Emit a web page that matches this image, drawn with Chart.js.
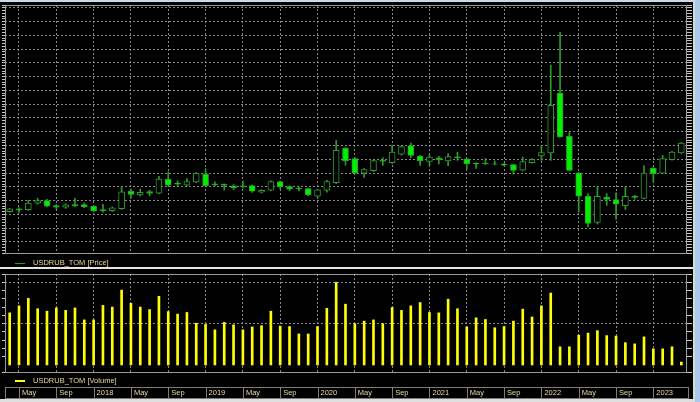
<!DOCTYPE html>
<html>
<head>
<meta charset="utf-8">
<script src="https://cdn.jsdelivr.net/npm/chart.js@4.4.1/dist/chart.umd.min.js"></script>
<style>
  html, body { margin: 0; padding: 0; background: #000; width: 700px; height: 402px; overflow: hidden; }
  .abs { position: absolute; }
  .legend { position: absolute; font: 7.5px 'Liberation Sans', Arial, sans-serif; color: #e6dc96; white-space: nowrap; line-height: 9px; }
  .frame { position: absolute; box-sizing: border-box; border: 1px solid #9a9a9a; pointer-events: none; }
</style>
</head>
<body>
<div class="abs" style="left:0;top:0;width:700px;height:258px"><canvas id="priceChart"></canvas></div>
<div class="abs" style="left:0;top:270px;width:700px;height:132px"><canvas id="volumeChart"></canvas></div>

<div class="frame" style="left:5px;top:5px;width:682px;height:249px"></div>
<div class="frame" style="left:5px;top:274px;width:682px;height:99px"></div>

<div class="abs" style="left:15px;top:263px;width:10px;height:1px;background:#1ea01e"></div>
<div class="legend" style="left:33px;top:258px">USDRUB_TOM [Price]</div>
<div class="abs" style="left:0;top:267px;width:693px;height:2px;background:#e4e4e4"></div>
<div class="abs" style="left:15px;top:380px;width:10px;height:2px;background:#ffff00"></div>
<div class="legend" style="left:33px;top:376px">USDRUB_TOM [Volume]</div>

<div class="abs" style="left:0;top:0;width:700px;height:2px;background:#c9d9ea"></div>
<div class="abs" style="left:693px;top:2px;width:2px;height:397px;background:#d8d8d8"></div>
<div class="abs" style="left:695px;top:0;width:5px;height:402px;background:#a9cbe9"></div>
<div class="abs" style="left:0;top:399px;width:695px;height:3px;background:#dedede"></div>

<script>
// monthly candles, Apr 2017 .. Apr 2023
const months = [
  'Apr 2017', 'May 2017', 'Jun 2017', 'Jul 2017', 'Aug 2017', 'Sep 2017', 'Oct 2017', 'Nov 2017', 'Dec 2017',
  'Jan 2018', 'Feb 2018', 'Mar 2018', 'Apr 2018', 'May 2018', 'Jun 2018', 'Jul 2018', 'Aug 2018', 'Sep 2018', 'Oct 2018', 'Nov 2018', 'Dec 2018',
  'Jan 2019', 'Feb 2019', 'Mar 2019', 'Apr 2019', 'May 2019', 'Jun 2019', 'Jul 2019', 'Aug 2019', 'Sep 2019', 'Oct 2019', 'Nov 2019', 'Dec 2019',
  'Jan 2020', 'Feb 2020', 'Mar 2020', 'Apr 2020', 'May 2020', 'Jun 2020', 'Jul 2020', 'Aug 2020', 'Sep 2020', 'Oct 2020', 'Nov 2020', 'Dec 2020',
  'Jan 2021', 'Feb 2021', 'Mar 2021', 'Apr 2021', 'May 2021', 'Jun 2021', 'Jul 2021', 'Aug 2021', 'Sep 2021', 'Oct 2021', 'Nov 2021', 'Dec 2021',
  'Jan 2022', 'Feb 2022', 'Mar 2022', 'Apr 2022', 'May 2022', 'Jun 2022', 'Jul 2022', 'Aug 2022', 'Sep 2022', 'Oct 2022', 'Nov 2022', 'Dec 2022',
  'Jan 2023', 'Feb 2023', 'Mar 2023', 'Apr 2023'
];

const open = [
  56.0, 57.0, 56.7, 59.1, 60.0, 58.2, 57.6, 58.6, 58.6,
  57.9, 56.8, 56.4, 57.1, 63.4, 62.1, 63.3, 62.7, 67.8, 66.3, 65.6, 66.8,
  69.6, 66.1, 65.9, 65.4, 65.4, 65.5, 63.1, 63.8, 66.9, 65.1, 64.5, 64.4,
  61.6, 63.8, 66.5, 79.0, 75.3, 70.0, 70.9, 74.6, 73.8, 76.9, 80.0, 76.2,
  74.2, 75.5, 74.4, 75.9, 75.2, 73.6, 73.5, 73.4, 73.3, 73.1, 71.1, 73.8,
  76.2, 77.3, 99.0, 83.3, 70.0, 61.6, 52.1, 61.3, 60.4, 58.2, 61.6, 60.8,
  71.8, 70.0, 74.9, 77.3
];
const high = [
  57.2, 57.5, 60.1, 60.9, 60.5, 58.6, 58.8, 60.8, 59.2,
  58.1, 58.7, 57.7, 65.0, 64.2, 64.2, 63.8, 68.8, 70.4, 67.1, 68.0, 70.2,
  71.6, 66.8, 66.1, 65.8, 67.1, 65.7, 64.0, 67.2, 67.1, 65.4, 65.0, 64.5,
  64.1, 67.4, 81.9, 79.3, 75.7, 71.6, 74.8, 75.6, 80.1, 80.0, 80.9, 76.4,
  76.6, 76.1, 77.1, 77.6, 75.4, 73.7, 75.3, 74.4, 73.5, 73.2, 75.8, 75.3,
  80.1, 109.1, 121.1, 84.9, 70.3, 62.6, 65.0, 62.6, 62.8, 65.0, 61.9, 72.6,
  72.0, 76.4, 77.9, 81.1
];
const low = [
  55.8, 55.8, 56.5, 58.7, 57.8, 57.0, 57.2, 57.9, 57.4,
  56.0, 55.8, 56.1, 56.8, 61.0, 61.7, 61.8, 62.5, 65.3, 65.3, 65.3, 66.5,
  65.1, 65.3, 63.8, 64.0, 64.6, 63.0, 62.8, 63.6, 64.2, 63.6, 63.5, 61.8,
  61.0, 63.1, 66.2, 72.9, 69.8, 68.4, 70.6, 72.8, 73.5, 76.5, 75.6, 72.8,
  72.8, 73.3, 72.7, 74.6, 71.5, 71.7, 73.2, 73.0, 72.7, 69.6, 70.8, 73.6,
  74.6, 74.6, 83.0, 70.8, 55.9, 50.5, 51.5, 58.3, 53.3, 56.8, 60.5, 60.6,
  66.8, 69.8, 74.7, 77.1
];
const close = [
  57.0, 56.6, 59.1, 60.0, 58.0, 57.6, 58.5, 58.1, 57.7,
  56.3, 56.4, 57.4, 63.2, 62.3, 63.0, 62.6, 67.8, 65.6, 66.0, 66.9, 69.9,
  65.4, 65.8, 65.6, 64.6, 65.2, 63.4, 63.7, 66.9, 65.0, 64.2, 64.3, 62.1,
  63.9, 66.9, 78.3, 74.4, 70.0, 71.3, 74.5, 74.3, 77.6, 79.6, 76.4, 74.4,
  75.8, 74.9, 76.0, 75.6, 73.4, 73.3, 73.3, 73.2, 72.9, 71.0, 74.2, 74.9,
  77.4, 94.6, 83.1, 71.0, 61.6, 51.7, 61.6, 60.4, 58.7, 61.6, 61.2, 70.0,
  69.8, 75.3, 77.6, 80.9
];
// relative volume (no scale labels visible)
const volume = [
  12.6, 14.3, 16.1, 13.6, 13.0, 13.8, 13.2, 13.8, 10.9,
  10.9, 14.4, 14.0, 18.1, 14.9, 14.0, 13.4, 16.6, 12.9, 12.3, 12.7, 10.1,
  9.8, 8.5, 10.3, 9.7, 8.5, 9.2, 9.5, 13.0, 9.4, 9.3, 7.5, 7.5,
  9.3, 13.7, 20.0, 14.7, 10.0, 10.6, 10.9, 10.0, 13.9, 13.2, 14.3, 15.1,
  12.7, 12.6, 15.9, 13.6, 9.2, 11.4, 11.0, 9.0, 9.3, 10.6, 13.5, 11.6,
  14.3, 17.4, 4.4, 4.4, 7.2, 7.7, 8.3, 7.1, 7.0, 5.4, 5.1, 6.8,
  3.9, 3.9, 4.4, 0.7
];

const colors = {
  grid: '#8a8a8a',
  wick: '#2c9c2c',
  bull: '#000000',
  bear: '#00f000',
  ruler: '#c8c8c8',
  volume: '#ffff00',
  text: '#e6dca0',
  box: '#7c7c7c'
};

// vertical grid and time labels on Jan / May / Sep
const axisLabel = (i) => {
  if (!months[i]) return '';
  const [m, y] = months[i].split(' ');
  if (m === 'Jan') return y;
  if (m === 'May' || m === 'Sep') return m;
  return '';
};
const isMark = (i) => axisLabel(i) !== '';
const tickIndex = (ctx) => ctx.tick ? ctx.tick.value : -1;

const xScale = (showLabels) => ({
  type: 'category',
  offset: true,
  grid: {
    offset: false,
    drawTicks: false,
    color: (ctx) => isMark(tickIndex(ctx)) ? colors.grid : 'rgba(0,0,0,0)'
  },
  border: { display: false, dash: [2, 2] },
  ticks: showLabels ? {
    autoSkip: false,
    maxRotation: 0,
    minRotation: 0,
    align: 'start',
    labelOffset: 3,
    padding: 16,
    color: colors.text,
    font: { family: "'Liberation Sans', Arial, sans-serif", size: 7.5 },
    callback: (v) => axisLabel(v)
  } : { display: false, autoSkip: false },
  afterFit: (s) => {
    s.height = showLabels ? 26 : 0;
    s.paddingLeft = 0;
    s.paddingRight = 0;
  }
});

const yScales = (min, max, step, every) => ({
  y: {
    min, max,
    ticks: { display: false, stepSize: step },
    grid: {
      color: (ctx) => Math.abs(ctx.tick.value % every) < 0.01 ? colors.grid : 'rgba(0,0,0,0)',
      tickColor: colors.ruler,
      tickLength: 3
    },
    border: { display: false, dash: [2, 2] },
    afterFit: (s) => { s.width = 0; s.paddingTop = 0; s.paddingBottom = 0; }
  },
  y2: {
    position: 'right',
    min, max,
    ticks: { display: false, stepSize: step },
    grid: { drawOnChartArea: false, tickColor: colors.ruler, tickLength: 6 },
    border: { display: false },
    afterFit: (s) => { s.width = 0; s.paddingTop = 0; s.paddingBottom = 0; }
  }
});

// boxed cells under the volume panel
const axisBoxes = {
  id: 'axisBoxes',
  afterDraw(chart) {
    const { ctx, chartArea, scales } = chart;
    const x = scales.x;
    const edges = [chartArea.left];
    months.forEach((m, i) => { if (isMark(i)) edges.push(x.getPixelForValue(i)); });
    edges.push(chartArea.right + 2);
    const top = chartArea.bottom + 15.5;
    ctx.save();
    ctx.strokeStyle = colors.box;
    ctx.lineWidth = 1;
    for (let k = 0; k < edges.length - 1; k++) {
      const x0 = Math.round(edges[k]) + 0.5;
      const x1 = Math.round(edges[k + 1]) + 0.5;
      ctx.strokeRect(x0, top, x1 - x0, 11);
    }
    ctx.restore();
  }
};

new Chart(document.getElementById('priceChart'), {
  type: 'bar',
  data: {
    labels: months,
    datasets: [
      {
        label: 'body',
        data: months.map((m, i) => [open[i], close[i]]),
        backgroundColor: months.map((m, i) => close[i] > open[i] ? colors.bull : colors.bear),
        borderColor: colors.wick,
        borderWidth: 1,
        borderSkipped: false,
        barThickness: 6,
        grouped: false,
        order: 0
      },
      {
        label: 'wick',
        data: months.map((m, i) => [low[i], high[i]]),
        backgroundColor: colors.wick,
        borderWidth: 0,
        barThickness: 1,
        grouped: false,
        order: 1
      }
    ]
  },
  options: {
    responsive: true,
    maintainAspectRatio: false,
    animation: false,
    layout: { padding: { left: 5, right: 14, top: 5, bottom: 5 } },
    plugins: { legend: { display: false }, tooltip: { enabled: false } },
    scales: Object.assign({ x: xScale(false) }, yScales(41, 131, 1, 5))
  }
});

new Chart(document.getElementById('volumeChart'), {
  type: 'bar',
  data: {
    labels: months,
    datasets: [{
      label: 'USDRUB_TOM [Volume]',
      data: volume,
      backgroundColor: colors.volume,
      borderWidth: 0,
      barThickness: 2
    }]
  },
  options: {
    responsive: true,
    maintainAspectRatio: false,
    animation: false,
    layout: { padding: { left: 5, right: 14, top: 4, bottom: 4 } },
    plugins: { legend: { display: false }, tooltip: { enabled: false } },
    scales: Object.assign({ x: xScale(true) }, yScales(-1.7, 22, 2, 10))
  },
  plugins: [axisBoxes]
});
</script>
</body>
</html>
